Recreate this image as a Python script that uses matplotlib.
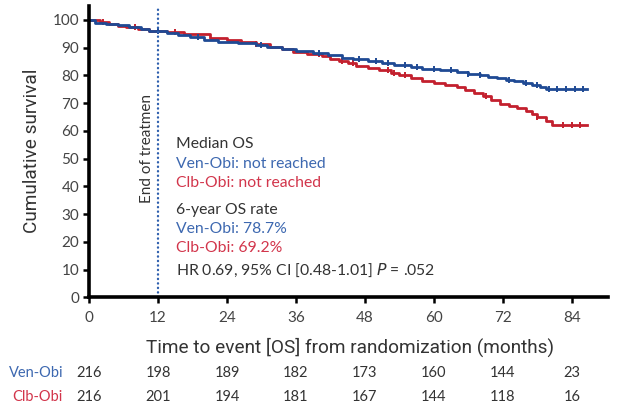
"""
Kaplan-Meier OS curves, Ven-Obi vs Clb-Obi, with number-at-risk table.
"""

import matplotlib
matplotlib.use("Agg")
import matplotlib.pyplot as plt
import numpy as np

# ---------- data ----------
ven_t = [0, 1.0, 3.0, 5.0, 7.0, 9.0, 10.5, 13.5, 15.5, 17.5, 20.0, 22.5, 26.0,
         29.0, 31.0, 33.5, 36.0, 39.0, 41.5, 44.0, 46.0, 48.5, 51.0, 53.0,
         56.0, 58.0, 61.0, 64.0, 66.0, 68.0, 69.5, 71.0, 72.5, 74.0, 75.5,
         77.0, 78.5, 79.5, 86.6]
ven_s = [100, 98.9, 98.4, 98.0, 97.3, 96.6, 96.0, 95.3, 94.6, 93.8, 92.9, 92.2,
         91.6, 90.9, 90.4, 89.6, 88.9, 87.9, 87.2, 86.4, 85.8, 85.1, 84.5,
         83.9, 83.2, 82.4, 81.9, 81.3, 80.6, 80.1, 79.4, 78.9, 78.4, 77.8,
         77.2, 76.6, 75.9, 75.2, 75.2]

clb_t = [0, 2.0, 3.5, 5.0, 6.5, 8.5, 10.5, 13.5, 16.5, 21.0, 24.0, 26.5, 29.0,
         31.5, 33.5, 35.5, 38.0, 40.5, 42.0, 43.5, 45.0, 46.5, 48.5, 50.5,
         52.5, 54.0, 56.0, 58.0, 60.0, 62.0, 64.0, 65.5, 67.0, 68.5, 70.0,
         71.5, 73.0, 74.5, 76.0, 77.0, 78.0, 79.5, 80.5, 86.6]
clb_s = [100, 99.2, 98.5, 97.9, 97.3, 96.6, 96.0, 95.6, 94.8, 93.4, 92.6, 91.9,
         91.2, 90.4, 89.4, 88.5, 87.8, 87.0, 86.0, 85.1, 84.4, 83.5, 82.5,
         81.8, 80.9, 80.2, 79.2, 78.0, 77.2, 76.6, 75.8, 74.6, 73.5, 72.4,
         71.1, 69.8, 69.0, 68.4, 67.0, 66.0, 65.0, 63.4, 62.0, 62.0]

# censoring ticks (months)
ven_cens = [12, 19, 30, 40, 47, 50, 52, 55, 57, 60, 63, 66, 68, 73, 76, 78,
            80, 81.5, 83, 84.5, 86]
clb_cens = [2.5, 8, 15, 29, 40, 44, 46, 52, 53, 55, 69, 78, 82.5, 84, 85.5]

risk_times = [0, 12, 24, 36, 48, 60, 72, 84]
ven_risk = [216, 198, 189, 182, 173, 160, 144, 23]
clb_risk = [216, 201, 194, 181, 167, 144, 118, 16]

BLUE, RED = "#1f4a94", "#c3202e"
BLUE_TXT, RED_TXT = "#3d68b0", "#d2354b"
GREY = "#333333"

plt.rcParams["font.family"] = ["Lato", "DejaVu Sans"]
NARROW = ["Liberation Sans Narrow", "Roboto", "DejaVu Sans"]

fig = plt.figure(figsize=(6.28, 4.18), dpi=100)
ax = fig.add_axes([0.1417, 0.2883, 0.8265, 0.6974])


def surv_at(ts, ss, when):
    idx = np.searchsorted(ts, when, side="right") - 1
    return np.asarray(ss)[idx]


for ts, ss, cens, col in [(clb_t, clb_s, clb_cens, RED),
                          (ven_t, ven_s, ven_cens, BLUE)]:
    ax.plot(ts, ss, drawstyle="steps-post", color=col, lw=2.0)
    ax.plot(cens, surv_at(ts, ss, cens), ls="none", marker="|",
            color=col, ms=5, mew=1.4)

ax.axvline(12, color="#2e5fae", ls=(0, (0.1, 1.8)), lw=1.7,
           dash_capstyle="round")
ax.text(10.1, 53.8, "End of treatmen", rotation=90, ha="center", va="center",
        fontsize=11, color=GREY)

x0 = 15.2
fs = 11.3
ax.text(x0, 55.4, "Median OS", fontsize=fs, color=GREY, va="center")
ax.text(x0, 48.2, "Ven-Obi: not reached", fontsize=fs, color=BLUE_TXT, va="center")
ax.text(x0, 41.4, "Clb-Obi: not reached", fontsize=fs, color=RED_TXT, va="center")
ax.text(x0, 31.6, "6-year OS rate", fontsize=fs, color=GREY, va="center")
ax.text(x0, 24.7, "Ven-Obi: 78.7%", fontsize=fs, color=BLUE_TXT, va="center")
ax.text(x0, 17.9, "Clb-Obi: 69.2%", fontsize=fs, color=RED_TXT, va="center")
ax.text(x0, 9.9, "HR 0.69, 95% CI [0.48-1.01] $P$ = .052", fontsize=fs,
        color=GREY, va="center")

ax.set_xlim(0, 90.3)
ax.set_ylim(0, 105)
ax.set_xticks(risk_times)
ax.set_yticks(range(0, 101, 10))
for s in ["top", "right"]:
    ax.spines[s].set_visible(False)
for s in ["left", "bottom"]:
    ax.spines[s].set_linewidth(2.6)
ax.tick_params(direction="out", length=4, width=1.8, labelsize=11,
               labelcolor="#444444", pad=3)
ax.tick_params(axis="x", pad=6)

fig.text(350 / 628, 1 - 347 / 418,
         "Time to event [OS] from randomization (months)",
         ha="center", va="center", fontsize=13.7, color=GREY, family=NARROW)
fig.text(32 / 628, 1 - 151 / 418, "Cumulative survival", rotation=90,
         ha="center", va="center", fontsize=13.7, color=GREY, family=NARROW)

# number at risk
tr = ax.get_xaxis_transform()
for yy, name, col, vals in [(-0.259, "Ven-Obi", BLUE_TXT, ven_risk),
                            (-0.341, "Clb-Obi", RED_TXT, clb_risk)]:
    ax.text(-4.5, yy, name, transform=tr, ha="right", va="center",
            fontsize=10.5, color=col, clip_on=False)
    for t, v in zip(risk_times, vals):
        ax.text(t, yy, str(v), transform=tr, ha="center", va="center",
                fontsize=10.5, color=GREY, clip_on=False)

fig.savefig("out.png", dpi=100)
